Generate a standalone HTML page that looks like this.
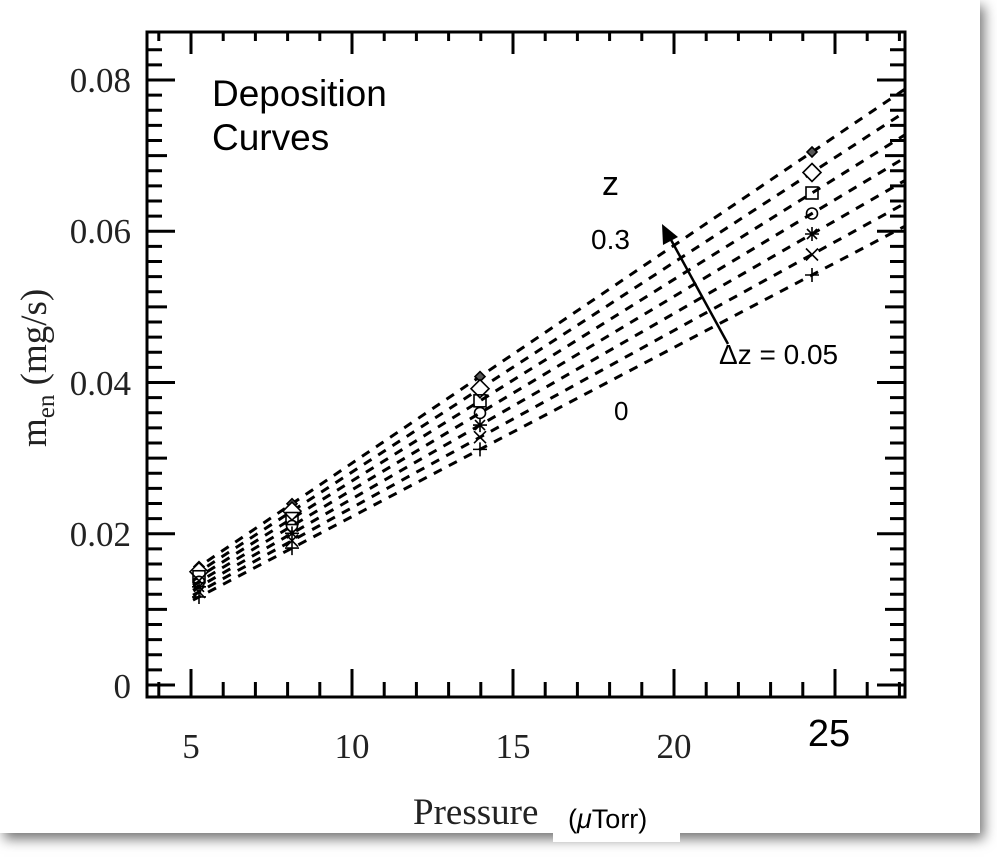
<!DOCTYPE html>
<html><head><meta charset="utf-8"><style>
html,body{margin:0;padding:0;background:#fff;width:997px;height:860px;overflow:hidden}
#card{position:absolute;left:0;top:0;width:980px;height:833px;background:#fff;box-shadow:4px 6px 12px rgba(0,0,0,0.55)}
svg{position:absolute;left:0;top:0}
</style></head><body>
<div id="card"></div>
<svg id="s" width="997" height="860" xmlns="http://www.w3.org/2000/svg">
<rect x="147" y="32" width="758" height="665" fill="none" stroke="#000" stroke-width="3"/>
<g id="t" stroke="#000" stroke-width="3"></g>
<g id="l" stroke="#000" stroke-width="3" stroke-dasharray="9,8" fill="none"></g>
<g id="m" stroke="#000" stroke-width="1.6" fill="none"></g>
<g font-family="Liberation Serif, serif" font-size="35" fill="#222">
<text x="131" y="92" text-anchor="end">0.08</text>
<text x="131" y="243" text-anchor="end">0.06</text>
<text x="131" y="395" text-anchor="end">0.04</text>
<text x="131" y="546" text-anchor="end">0.02</text>
<text x="131" y="698" text-anchor="end">0</text>
<text x="191" y="758" text-anchor="middle">5</text>
<text x="352" y="758" text-anchor="middle">10</text>
<text x="513" y="758" text-anchor="middle">15</text>
<text x="674" y="758" text-anchor="middle">20</text>
<text x="413" y="824" font-size="37">Pressure</text>
<text transform="translate(46,447) rotate(-90)" font-size="37">m<tspan font-size="25" dy="8">en</tspan><tspan dy="-8"> (mg/s)</tspan></text>
</g>
<g font-family="Liberation Sans, sans-serif" fill="#000">
<text x="829" y="746" text-anchor="middle" font-size="38">25</text>
<text x="212" y="106" font-size="37">Deposition</text>
<text x="212" y="150" font-size="37">Curves</text>
<text x="602" y="195" font-size="34">z</text>
<text x="591" y="249" font-size="28">0.3</text>
<text x="719" y="364" font-size="28">Δz = 0.05</text>
<text x="614" y="420" font-size="26">0</text>
</g>
<rect x="553" y="800" width="127" height="42" fill="#fff"/>
<text x="568" y="828" font-family="Liberation Sans, sans-serif" font-size="27">(<tspan font-style="italic">μ</tspan>Torr)</text>
<line x1="728" y1="344" x2="670" y2="238" stroke="#000" stroke-width="2.5"/>
<polygon points="662,224 663,245 678,237" fill="#000"/>
</svg>
<script>
var NS="http://www.w3.org/2000/svg";
function el(p,n,a){var e=document.createElementNS(NS,n);for(var k in a)e.setAttribute(k,a[k]);document.getElementById(p).appendChild(e);return e;}
var L=147,R=905,T=32,B=697;
function X(p){return 191+(p-5)*32.2;}
function Y(v){return 685-v*7562.5;}
for(var p=4;p<=27;p++){var x=X(p),len=(p%5==0)?28:15;
 el('t','line',{x1:x,y1:B,x2:x,y2:B-len});el('t','line',{x1:x,y1:T,x2:x,y2:T+len-6});}
for(var i=0;i<=45;i++){var v=i*0.002,y=Y(v);if(y<T+3)break;
 var len=(i%10==0)?28:(i%5==0?20:15);
 el('t','line',{x1:L,y1:y,x2:L+len,y2:y});el('t','line',{x1:R,y1:y,x2:R-len,y2:y});}
var lines=[];
for(var k=0;k<7;k++){var f=k/6;
 var y1=568+f*30,y2=152+f*123; var s=(y2-y1)/(812-197);
 lines.push(function(y1,s){return function(x){return y1+(x-197)*s;}}(y1,s));
 el('l','line',{x1:193,y1:lines[k](193),x2:905,y2:lines[k](905)});}
var xs=[199,292,480,812];
function mk(t,x,y){
 if(t==0){el('m','path',{d:'M'+x+' '+(y-5)+'L'+(x+5)+' '+y+'L'+x+' '+(y+5)+'L'+(x-5)+' '+y+'Z',fill:'#555'});}
 else if(t==1){el('m','path',{d:'M'+x+' '+(y-9)+'L'+(x+9)+' '+y+'L'+x+' '+(y+9)+'L'+(x-9)+' '+y+'Z',fill:'#fff'});}
 else if(t==2){el('m','rect',{x:x-6,y:y-6,width:12,height:12});}
 else if(t==3){el('m','circle',{cx:x,cy:y,r:5.5});}
 else if(t==4){el('m','path',{d:'M'+(x-7)+' '+y+'H'+(x+7)+'M'+x+' '+(y-7)+'V'+(y+7)+'M'+(x-5)+' '+(y-5)+'L'+(x+5)+' '+(y+5)+'M'+(x-5)+' '+(y+5)+'L'+(x+5)+' '+(y-5)});}
 else if(t==5){el('m','path',{d:'M'+(x-6)+' '+(y-6)+'L'+(x+6)+' '+(y+6)+'M'+(x-6)+' '+(y+6)+'L'+(x+6)+' '+(y-6)});}
 else {el('m','path',{d:'M'+(x-7)+' '+y+'H'+(x+7)+'M'+x+' '+(y-7)+'V'+(y+7)});}
}
xs.forEach(function(x){for(var k=0;k<7;k++)mk(k,x,lines[k](x));});
</script>
</body></html>
